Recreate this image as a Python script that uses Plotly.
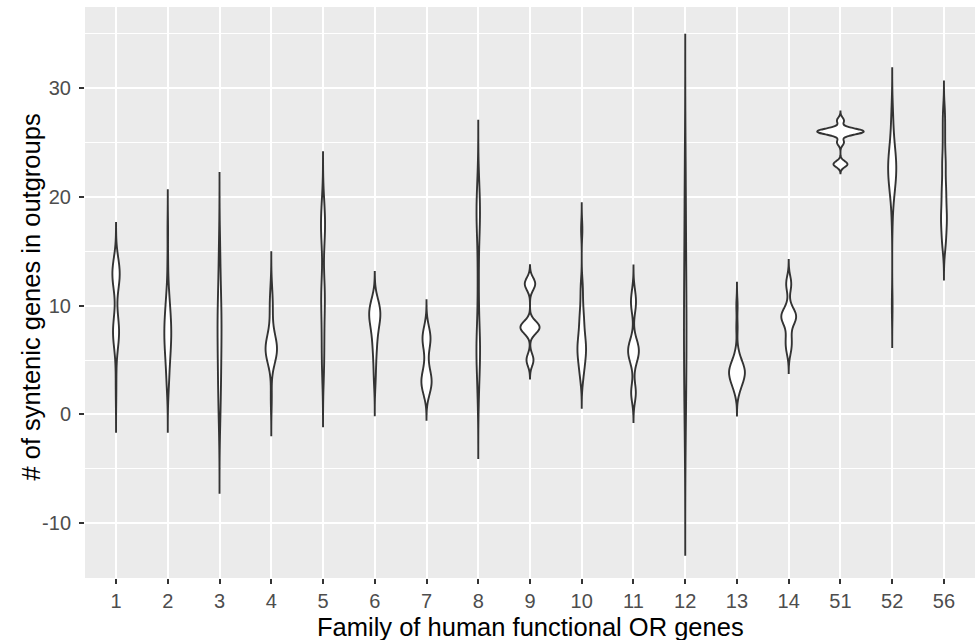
import numpy as np
import plotly.graph_objects as go

# Category labels (OR gene families)
FAMILIES = ["1", "2", "3", "4", "5", "6", "7", "8", "9", "10",
            "11", "12", "13", "14", "51", "52", "56"]

# Observed syntenic-gene counts per family: distinct values and how often each occurs
F1_VALUES = [2, 4, 6, 7, 8, 9, 10, 12, 13, 14]
F1_COUNTS = [1, 1, 2, 6, 7, 2, 1, 6, 9, 5]
F2_VALUES = [2, 3, 4, 5, 6, 7, 8, 9, 10, 11, 12, 14, 17]
F2_COUNTS = [1, 2, 2, 3, 4, 5, 5, 4, 3, 2, 1, 1, 1]
F3_VALUES = [0, 2, 4, 5, 7, 8, 9, 10, 12, 15]
F3_COUNTS = [1, 1, 1, 1, 1, 1, 1, 1, 1, 1]
F4_VALUES = [1, 2, 4, 5, 6, 7, 8, 9, 10, 11, 12]
F4_COUNTS = [1, 1, 1, 7, 13, 7, 2, 2, 3, 2, 1]
F5_VALUES = [4, 6, 8, 10, 11, 12, 16, 17, 18, 19]
F5_COUNTS = [1, 1, 1, 1, 1, 1, 1, 1, 1, 1]
F6_VALUES = [3, 4, 5, 6, 7, 8, 9, 10]
F6_COUNTS = [1, 1, 1, 2, 2, 3, 6, 6]
F7_VALUES = [2, 3, 4, 5, 6, 7, 8]
F7_COUNTS = [3, 6, 3, 1, 2, 5, 2]
F8_VALUES = [2, 4, 5, 6, 7, 8, 11, 14, 17, 18, 19, 20, 21]
F8_COUNTS = [1, 1, 1, 2, 1, 1, 1, 1, 1, 2, 1, 1, 1]
F9_VALUES = [5, 8, 12]
F9_COUNTS = [4, 11, 6]
F10_VALUES = [3, 4, 5, 6, 7, 8, 9, 10, 11, 12, 17]
F10_COUNTS = [1, 2, 3, 4, 3, 2, 2, 1, 1, 1, 1]
F11_VALUES = [2, 5, 6, 7, 10, 11]
F11_COUNTS = [4, 3, 7, 1, 3, 2]
F12_VALUES = [0, 3, 6, 8, 10, 13, 17, 22]
F12_COUNTS = [1, 1, 1, 1, 1, 1, 1, 1]
F13_VALUES = [2, 3, 4, 5, 6, 8, 10]
F13_COUNTS = [2, 6, 9, 4, 1, 1, 1]
F14_VALUES = [6, 7, 8, 9, 10, 12]
F14_COUNTS = [3, 3, 1, 11, 1, 4]
F51_VALUES = [23, 25, 26, 27]
F51_COUNTS = [6, 3, 20, 3]
F52_VALUES = [10, 18, 20, 21, 22, 23, 24, 25, 26, 27, 28]
F52_COUNTS = [1, 1, 2, 3, 4, 5, 3, 2, 1, 1, 1]
F56_VALUES = [15, 16, 17, 18, 19, 20, 21, 22, 23, 24, 25, 26, 27, 28]
F56_COUNTS = [1, 2, 2, 3, 2, 2, 2, 1, 2, 1, 1, 1, 1, 1]

# Kernel bandwidths (tails extend 3 bandwidths past the data)
BANDWIDTHS = [1.2, 1.23, 2.4, 1.0, 1.7, 1.03, 0.83, 2.0, 0.57,
              0.8, 0.9, 4.3, 0.7, 0.73, 0.28, 1.3, 0.87]

Y_TICKS = [-10, 0, 10, 20, 30]
Y_TICK_TEXT = ["-10", "0", "10", "20", "30"]

VALUES = [F1_VALUES, F2_VALUES, F3_VALUES, F4_VALUES, F5_VALUES, F6_VALUES,
          F7_VALUES, F8_VALUES, F9_VALUES, F10_VALUES, F11_VALUES, F12_VALUES,
          F13_VALUES, F14_VALUES, F51_VALUES, F52_VALUES, F56_VALUES]
COUNTS = [F1_COUNTS, F2_COUNTS, F3_COUNTS, F4_COUNTS, F5_COUNTS, F6_COUNTS,
          F7_COUNTS, F8_COUNTS, F9_COUNTS, F10_COUNTS, F11_COUNTS, F12_COUNTS,
          F13_COUNTS, F14_COUNTS, F51_COUNTS, F52_COUNTS, F56_COUNTS]


def kde_peak(y, bw, span):
    """Peak of the gaussian kernel density (for ggplot-like equal-area scaling)."""
    grid = np.linspace(span[0], span[1], 4000)
    z = (grid[:, None] - y[None, :]) / bw
    dens = np.exp(-0.5 * z * z).sum(axis=1) / (len(y) * bw * np.sqrt(2 * np.pi))
    return dens.max()


samples, spans, peaks = [], [], []
for vals, cnts, bw in zip(VALUES, COUNTS, BANDWIDTHS):
    y = np.repeat(np.array(vals, dtype=float), cnts)
    span = [float(y.min() - 3 * bw), float(y.max() + 3 * bw)]
    samples.append(y)
    spans.append(span)
    peaks.append(kde_peak(y, bw, span))
max_peak = max(peaks)

fig = go.Figure()
for fam, y, bw, span, pk in zip(FAMILIES, samples, BANDWIDTHS, spans, peaks):
    fig.add_trace(go.Violin(
        x=[fam] * len(y), y=y,
        bandwidth=bw,
        spanmode="manual", span=span,
        scalemode="width", width=0.9 * pk / max_peak,
        points=False, box_visible=False, meanline_visible=False,
        fillcolor="white", line=dict(color="#333333", width=1.9),
        opacity=1, hoveron="violins", showlegend=False,
    ))

fig.update_layout(
    width=977, height=640,
    margin=dict(l=85, r=2, t=7, b=62, autoexpand=False),
    plot_bgcolor="#EBEBEB", paper_bgcolor="white",
    violinmode="overlay", showlegend=False,
    font=dict(family="Liberation Sans, Arial, sans-serif", color="#000000"),
    annotations=[
        dict(text="Family of human functional OR genes", xref="paper", yref="paper",
             x=0.5, y=0, yshift=-49, xanchor="center", yanchor="middle",
             showarrow=False, font=dict(size=25.5, color="#000000")),
        dict(text="# of syntenic genes in outgroups", xref="paper", yref="paper",
             x=0, xshift=-55, y=0.5, yshift=-5, xanchor="center", yanchor="middle",
             textangle=-90, showarrow=False, font=dict(size=25.5, color="#000000")),
    ],
)
fig.update_xaxes(
    type="category", categoryorder="array", categoryarray=FAMILIES,
    range=[-0.6, 16.6], automargin=False,
    showgrid=True, gridcolor="white", gridwidth=2,
    zeroline=False, showline=False,
    ticks="outside", ticklen=5, tickwidth=1.5, tickcolor="#333333",
    tickfont=dict(size=20, color="#4D4D4D"),
)
fig.update_yaxes(
    range=[-15.03, 37.44], automargin=False,
    tickvals=Y_TICKS, ticktext=Y_TICK_TEXT,
    showgrid=True, gridcolor="white", gridwidth=2,
    minor=dict(tickvals=[-15, -5, 5, 15, 25, 35], showgrid=True,
               gridcolor="white", gridwidth=1, ticks=""),
    zeroline=False, showline=False,
    ticks="outside", ticklen=5, tickwidth=1.5, tickcolor="#333333",
    ticklabelstandoff=4,
    tickfont=dict(size=20, color="#4D4D4D"),
)

fig.write_html("out.html", config={"displayModeBar": False},
               post_script="document.body.style.margin='0';")
